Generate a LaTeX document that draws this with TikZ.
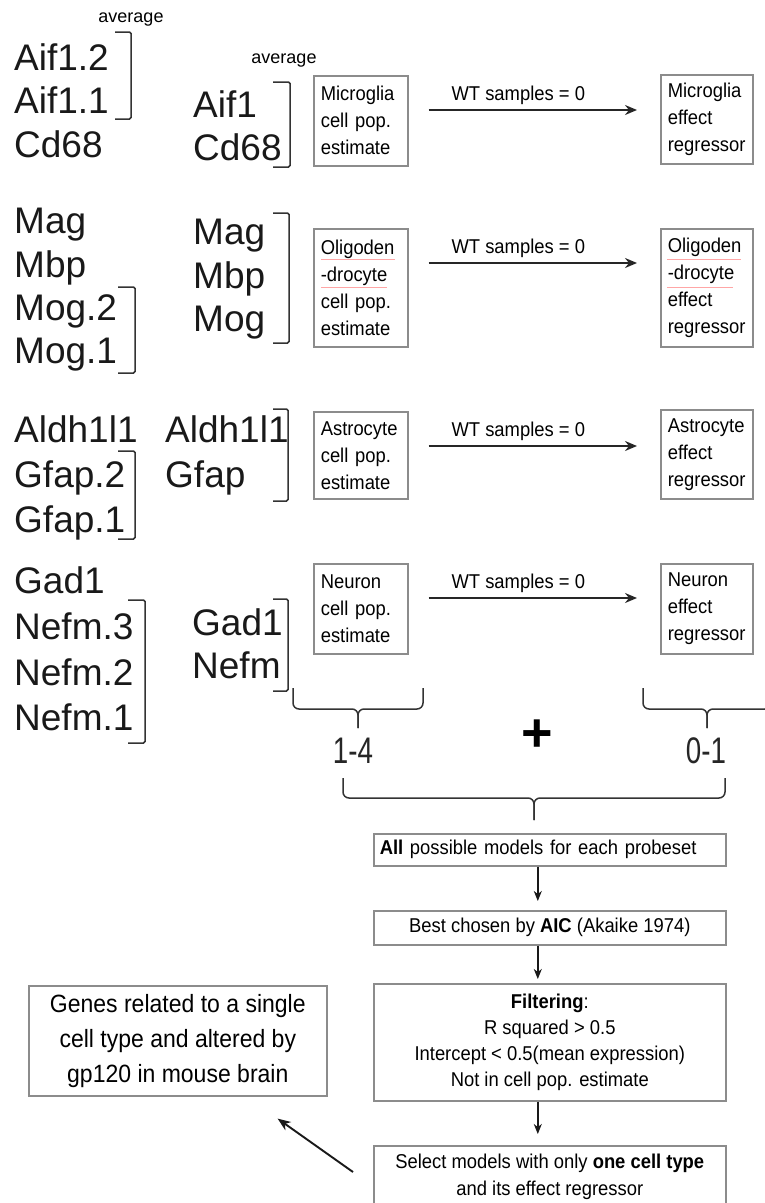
\documentclass[tikz,border=0pt]{standalone}
\usepackage{fontspec}
\setmainfont{Liberation Sans}
\newfontfamily\narrowfont[FakeStretch=0.92]{Liberation Sans}
\newfontfamily\vnarrowfont[FakeStretch=0.75]{Liberation Sans}
\usetikzlibrary{arrows.meta,calc}
\begin{document}
\begin{tikzpicture}[x=1pt,y=-1pt,
  gene/.style={font=\fontsize{37}{44}\selectfont, inner sep=0, anchor=base west, text=black!90},
  avg/.style={font=\fontsize{18}{20}\selectfont, inner sep=0, anchor=base},
  cbox/.style={draw=black!45, line width=1.6, fill=white, font=\narrowfont\fontsize{20}{27}\selectfont,
    align=left, anchor=north west, inner xsep=7, inner ysep=0},
  flow/.style={draw=black!45, line width=1.6, fill=white, font=\narrowfont\fontsize{20}{26.3}\selectfont,
    align=center, anchor=north west, inner sep=0},
  brk/.style={draw=black!80, line width=1.5, rounded corners=1.5},
  brace/.style={draw=black!80, line width=1.5, rounded corners=6},
  harrow/.style={-{Stealth[length=12,width=10,inset=4]}, line width=1.9, black!85},
  varrow/.style={-{Stealth[length=10,width=8,inset=3]}, line width=1.4, black!90},
  lbl/.style={font=\narrowfont\fontsize{20}{24}\selectfont, inner sep=0, anchor=base, yshift=10pt, xshift=-16pt, text=black},
  cnt/.style={font=\vnarrowfont\fontsize{37}{40}\selectfont, inner sep=0, anchor=base, text=black!85},
  squig/.style={draw=red!35, line width=1}
]
\useasboundingbox (0,0) rectangle (765,1203);
\clip (0,0) rectangle (765,1203);

% ---- gene names, first column
\node[gene] (g1a) at (14,70) {Aif1.2};
\node[gene] (g1b) at (14,113) {Aif1.1};
\node[gene] (g1c) at (14,157) {Cd68};
\node[gene] (g2a) at (14,233) {Mag};
\node[gene] (g2b) at (14,277) {Mbp};
\node[gene] (g2c) at (14,320) {Mog.2};
\node[gene] (g2d) at (14,363) {Mog.1};
\node[gene] (g3a) at (14,442) {Aldh1l1};
\node[gene] (g3b) at (14,487) {Gfap.2};
\node[gene] (g3c) at (14,532) {Gfap.1};
\node[gene] (g4a) at (14,593) {Gad1};
\node[gene] (g4b) at (14,639) {Nefm.3};
\node[gene] (g4c) at (14,685) {Nefm.2};
\node[gene] (g4d) at (14,730) {Nefm.1};

% ---- gene names, second column
\node[gene] (h1a) at (193,117) {Aif1};
\node[gene] (h1b) at (193,160) {Cd68};
\node[gene] (h2a) at (193,244) {Mag};
\node[gene] (h2b) at (193,288) {Mbp};
\node[gene] (h2c) at (193,331) {Mog};
\node[gene] (h3a) at (165,442) {Aldh1l1};
\node[gene] (h3b) at (165,487) {Gfap};
\node[gene] (h4a) at (192,635) {Gad1};
\node[gene] (h4b) at (192,678) {Nefm};

\node[avg] (av1) at (131,22) {average};
\node[avg] (av2) at (284,63) {average};

% ---- square brackets
\draw[brk] (115,32) -- (131,32) -- (131,119) -- (115,119);
\draw[brk] (273,82) -- (290,82) -- (290,167) -- (273,167);
\draw[brk] (118,287) -- (135,287) -- (135,373) -- (118,373);
\draw[brk] (273,213) -- (289,213) -- (289,343) -- (273,343);
\draw[brk] (118,451) -- (135,451) -- (135,539) -- (118,539);
\draw[brk] (273,409) -- (288,409) -- (288,501) -- (273,501);
\draw[brk] (128,600) -- (145,600) -- (145,743) -- (128,743);
\draw[brk] (273,599) -- (288,599) -- (288,691) -- (273,691);

% ---- cell population boxes and effect regressors
\node[cbox, text width=80, minimum height=90] (mc) at (313,75) {Microglia\\cell pop.\\estimate};
\node[cbox, text width=78, minimum height=89] (me) at (660,74) {Microglia\\effect\\regressor};
\node[cbox, text width=80, minimum height=118] (oc) at (313,228) {Oligoden\\-drocyte\\cell pop.\\estimate};
\node[cbox, text width=78, minimum height=118] (oe) at (660,228) {Oligoden\\-drocyte\\effect\\regressor};
\node[cbox, text width=80, minimum height=87] (ac) at (313,411) {Astrocyte\\cell pop.\\estimate};
\node[cbox, text width=78, minimum height=89] (ae) at (660,409) {Astrocyte\\effect\\regressor};
\node[cbox, text width=80, minimum height=90] (nc) at (313,563) {Neuron\\cell pop.\\estimate};
\node[cbox, text width=78, minimum height=90] (ne) at (660,563) {Neuron\\effect\\regressor};

% spell-check underlines
\draw[squig] (321,259) -- (395,259);
\draw[squig] (321,287) -- (387,287);
\draw[squig] (667,259) -- (741,259);
\draw[squig] (667,287) -- (733,287);

% ---- WT arrows
\coordinate (t1) at ([yshift=-35pt]mc.north east);
\coordinate (t2) at ([yshift=-35pt]oc.north east);
\coordinate (t3) at ([yshift=-35pt]ac.north east);
\coordinate (t4) at ([yshift=-35pt]nc.north east);
\draw[harrow, shorten <=20, shorten >=23] (t1) -- node[lbl] (w1) {WT samples = 0} (t1 -| me.west);
\draw[harrow, shorten <=20, shorten >=23] (t2) -- node[lbl] (w2) {WT samples = 0} (t2 -| oe.west);
\draw[harrow, shorten <=20, shorten >=23] (t3) -- node[lbl] (w3) {WT samples = 0} (t3 -| ae.west);
\draw[harrow, shorten <=20, shorten >=23] (t4) -- node[lbl] (w4) {WT samples = 0} (t4 -| ne.west);

% ---- braces
\draw[brace] (293,688) -- (293,709) -- (358,709) -- (358,728);
\draw[brace] (423,688) -- (423,709) -- (358,709) -- (358,728);
\draw[brace] (643,688) -- (643,709) -- (707,709) -- (707,728);
\draw[brace] (771,688) -- (771,709) -- (707,709) -- (707,728);
\draw[brace] (343,778) -- (343,798) -- (534,798) -- (534,820);
\draw[brace] (725,778) -- (725,798) -- (534,798) -- (534,820);

\node[cnt] (c14) at (353,763) {1-4};
\node[cnt] (c01) at (706,763) {0-1};
\node[font=\bfseries\fontsize{54}{54}\selectfont, inner sep=0, text=black] (plus) at (537,736) {+};

% ---- flow boxes
\node[flow, minimum width=352, minimum height=32, align=left, text width=340, inner xsep=6] (all) at (373,833) {\textbf{All} possible models for each probeset};
\node[flow, minimum width=352, minimum height=34] (best) at (373,910) {Best chosen by \textbf{AIC} (Akaike 1974)};
\node[flow, minimum width=352, minimum height=117] (filt) at (373,983) {\textbf{Filtering}:\\R squared > 0.5\\Intercept < 0.5(mean expression)\\Not in cell pop. estimate};
\node[flow, minimum width=352, inner ysep=8.5, font=\narrowfont\fontsize{20}{27}\selectfont] (sel) at (373,1145) {Select models with only \textbf{one cell type}\\and its effect regressor\rule[-30pt]{0pt}{0pt}};
\node[flow, minimum width=298, minimum height=110, font=\narrowfont\fontsize{25}{35}\selectfont] (genes) at (28,985) {Genes related to a single\\cell type and altered by\\gp120 in mouse brain};

\draw[varrow, shorten >=9] ([xshift=-12pt]all.south) -- ([xshift=-12pt]all.south |- best.north);
\draw[varrow, shorten >=4] ([xshift=-12pt]best.south) -- ([xshift=-12pt]best.south |- filt.north);
\draw[varrow, shorten >=11] ([xshift=-12pt]filt.south) -- ([xshift=-12pt]filt.south |- sel.north);
\draw[varrow, line width=1.9, -{Stealth[length=13,width=10,inset=4]}] ($(sel.north west)+(-20,27)$) -- ($(genes.south east)+(-50,22)$);
\end{tikzpicture}
\end{document}
